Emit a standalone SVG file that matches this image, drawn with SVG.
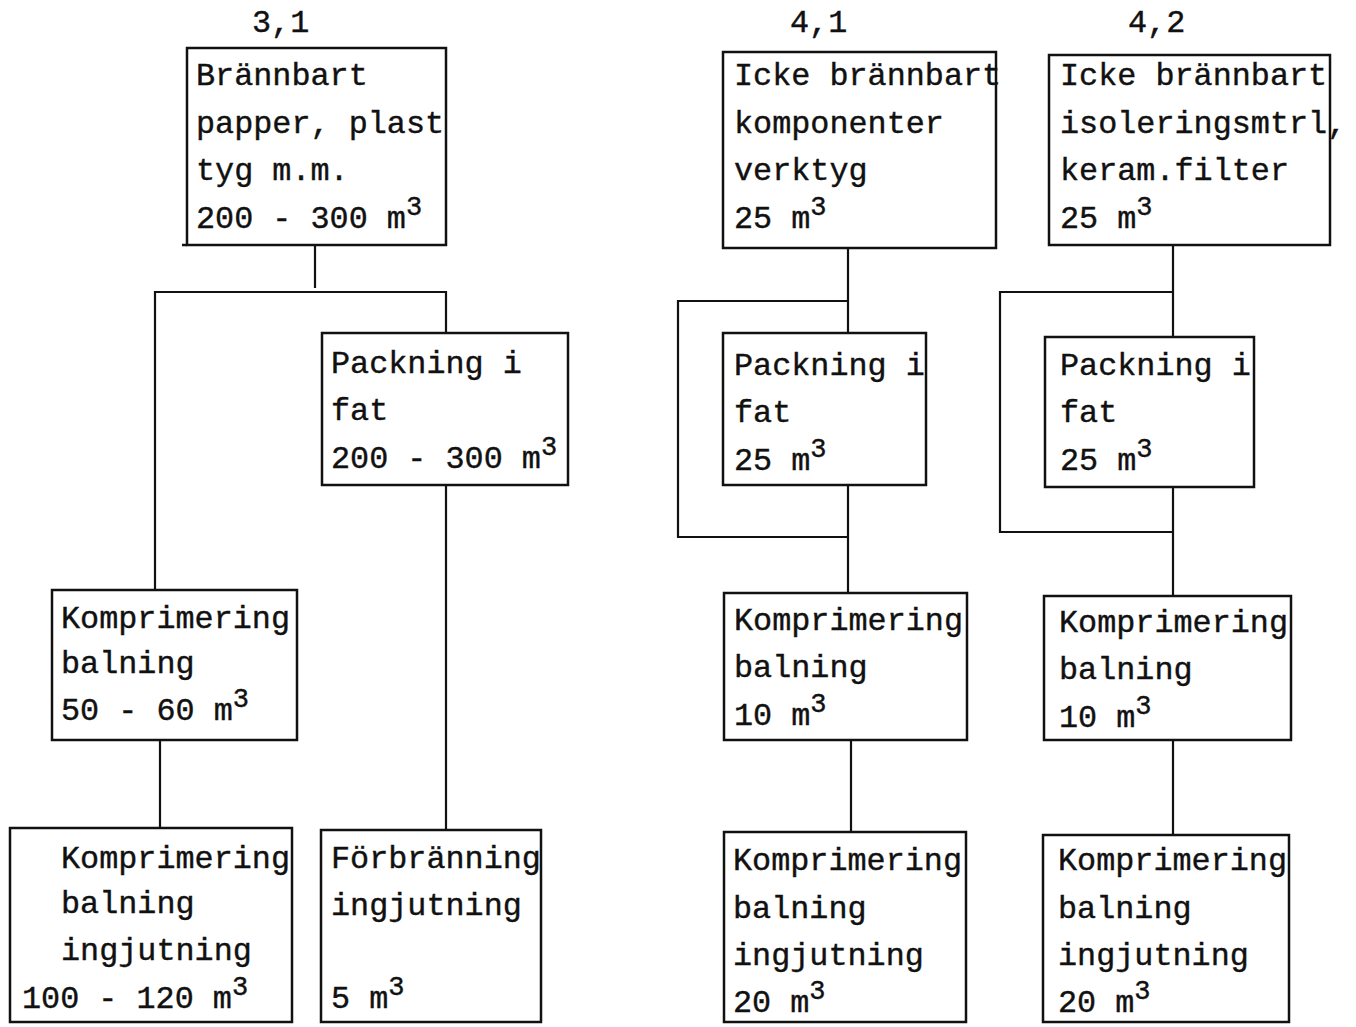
<svg xmlns="http://www.w3.org/2000/svg" width="1356" height="1027" viewBox="0 0 1356 1027">
  <style>
    .box { fill: none; stroke: #111; stroke-width: 2.5; }
    .wire { fill: none; stroke: #111; stroke-width: 2.2; }
    text { font-family: "Liberation Mono", "DejaVu Sans Mono", monospace; font-size: 31.8px; fill: #111; stroke: #111; stroke-width: 0.4; }
    .sup { font-size: 27px; }
  </style>
  <rect width="1356" height="1027" fill="#fff"/>

  <!-- column headings -->
  <g id="headings">
    <text x="252" y="32">3,1</text>
    <text x="790" y="32">4,1</text>
    <text x="1128" y="32">4,2</text>
  </g>

  <!-- connectors -->
  <g id="connectors">
    <!-- column 3,1 -->
    <path class="wire" d="M315 245 V288"/>
    <path class="wire" d="M155 590 V292 H446 V333"/>
    <path class="wire" d="M446 485 V830"/>
    <path class="wire" d="M160 740 V828"/>
    <!-- column 4,1 -->
    <path class="wire" d="M848 248 V333"/>
    <path class="wire" d="M848 301 H678 V537 H848"/>
    <path class="wire" d="M848 485 V593"/>
    <path class="wire" d="M851 740 V832"/>
    <!-- column 4,2 -->
    <path class="wire" d="M1173 245 V337"/>
    <path class="wire" d="M1173 292 H1000 V532 H1173"/>
    <path class="wire" d="M1173 487 V596"/>
    <path class="wire" d="M1173 740 V835"/>
  </g>

  <!-- column 3,1 -->
  <g id="n31-source">
    <rect class="box" x="187" y="48" width="259" height="197"/>
    <path class="box" d="M182 245 H187"/>
    <text x="196" y="85">Brännbart</text>
    <text x="196" y="133">papper, plast</text>
    <text x="196" y="180">tyg m.m.</text>
    <text x="196" y="228">200 - 300 m<tspan class="sup" dy="-13">3</tspan></text>
  </g>
  <g id="n31-pack">
    <rect class="box" x="322" y="333" width="246" height="152"/>
    <text x="331" y="373">Packning i</text>
    <text x="331" y="420">fat</text>
    <text x="331" y="468">200 - 300 m<tspan class="sup" dy="-13">3</tspan></text>
  </g>
  <g id="n31-compress">
    <rect class="box" x="52" y="590" width="245" height="150"/>
    <text x="61" y="628">Komprimering</text>
    <text x="61" y="673">balning</text>
    <text x="61" y="720">50 - 60 m<tspan class="sup" dy="-13">3</tspan></text>
  </g>
  <g id="n31-compress-cast">
    <rect class="box" x="10" y="828" width="282" height="194"/>
    <text x="61" y="868">Komprimering</text>
    <text x="61" y="913">balning</text>
    <text x="61" y="960">ingjutning</text>
    <text x="22" y="1008">100 - 120 m<tspan class="sup" dy="-13">3</tspan></text>
  </g>
  <g id="n31-incinerate">
    <rect class="box" x="321" y="830" width="220" height="192"/>
    <text x="331" y="868">Förbränning</text>
    <text x="331" y="915">ingjutning</text>
    <text x="331" y="1008">5 m<tspan class="sup" dy="-13">3</tspan></text>
  </g>

  <!-- column 4,1 -->
  <g id="n41-source">
    <rect class="box" x="723" y="52" width="273" height="196"/>
    <text x="734" y="85">Icke brännbart</text>
    <text x="734" y="133">komponenter</text>
    <text x="734" y="180">verktyg</text>
    <text x="734" y="228">25 m<tspan class="sup" dy="-13">3</tspan></text>
  </g>
  <g id="n41-pack">
    <rect class="box" x="723" y="333" width="203" height="152"/>
    <text x="734" y="375">Packning i</text>
    <text x="734" y="422">fat</text>
    <text x="734" y="470">25 m<tspan class="sup" dy="-13">3</tspan></text>
  </g>
  <g id="n41-compress">
    <rect class="box" x="724" y="593" width="243" height="147"/>
    <text x="734" y="630">Komprimering</text>
    <text x="734" y="677">balning</text>
    <text x="734" y="725">10 m<tspan class="sup" dy="-13">3</tspan></text>
  </g>
  <g id="n41-compress-cast">
    <rect class="box" x="724" y="832" width="242" height="190"/>
    <text x="733" y="870">Komprimering</text>
    <text x="733" y="918">balning</text>
    <text x="733" y="965">ingjutning</text>
    <text x="733" y="1012">20 m<tspan class="sup" dy="-13">3</tspan></text>
  </g>

  <!-- column 4,2 -->
  <g id="n42-source">
    <rect class="box" x="1049" y="55" width="281" height="190"/>
    <text x="1060" y="85">Icke brännbart</text>
    <text x="1060" y="133">isoleringsmtrl,</text>
    <text x="1060" y="180">keram.filter</text>
    <text x="1060" y="228">25 m<tspan class="sup" dy="-13">3</tspan></text>
  </g>
  <g id="n42-pack">
    <rect class="box" x="1045" y="337" width="209" height="150"/>
    <text x="1060" y="375">Packning i</text>
    <text x="1060" y="422">fat</text>
    <text x="1060" y="470">25 m<tspan class="sup" dy="-13">3</tspan></text>
  </g>
  <g id="n42-compress">
    <rect class="box" x="1044" y="596" width="247" height="144"/>
    <text x="1059" y="632">Komprimering</text>
    <text x="1059" y="679">balning</text>
    <text x="1059" y="727">10 m<tspan class="sup" dy="-13">3</tspan></text>
  </g>
  <g id="n42-compress-cast">
    <rect class="box" x="1043" y="835" width="246" height="187"/>
    <text x="1058" y="870">Komprimering</text>
    <text x="1058" y="918">balning</text>
    <text x="1058" y="965">ingjutning</text>
    <text x="1058" y="1012">20 m<tspan class="sup" dy="-13">3</tspan></text>
  </g>
</svg>
